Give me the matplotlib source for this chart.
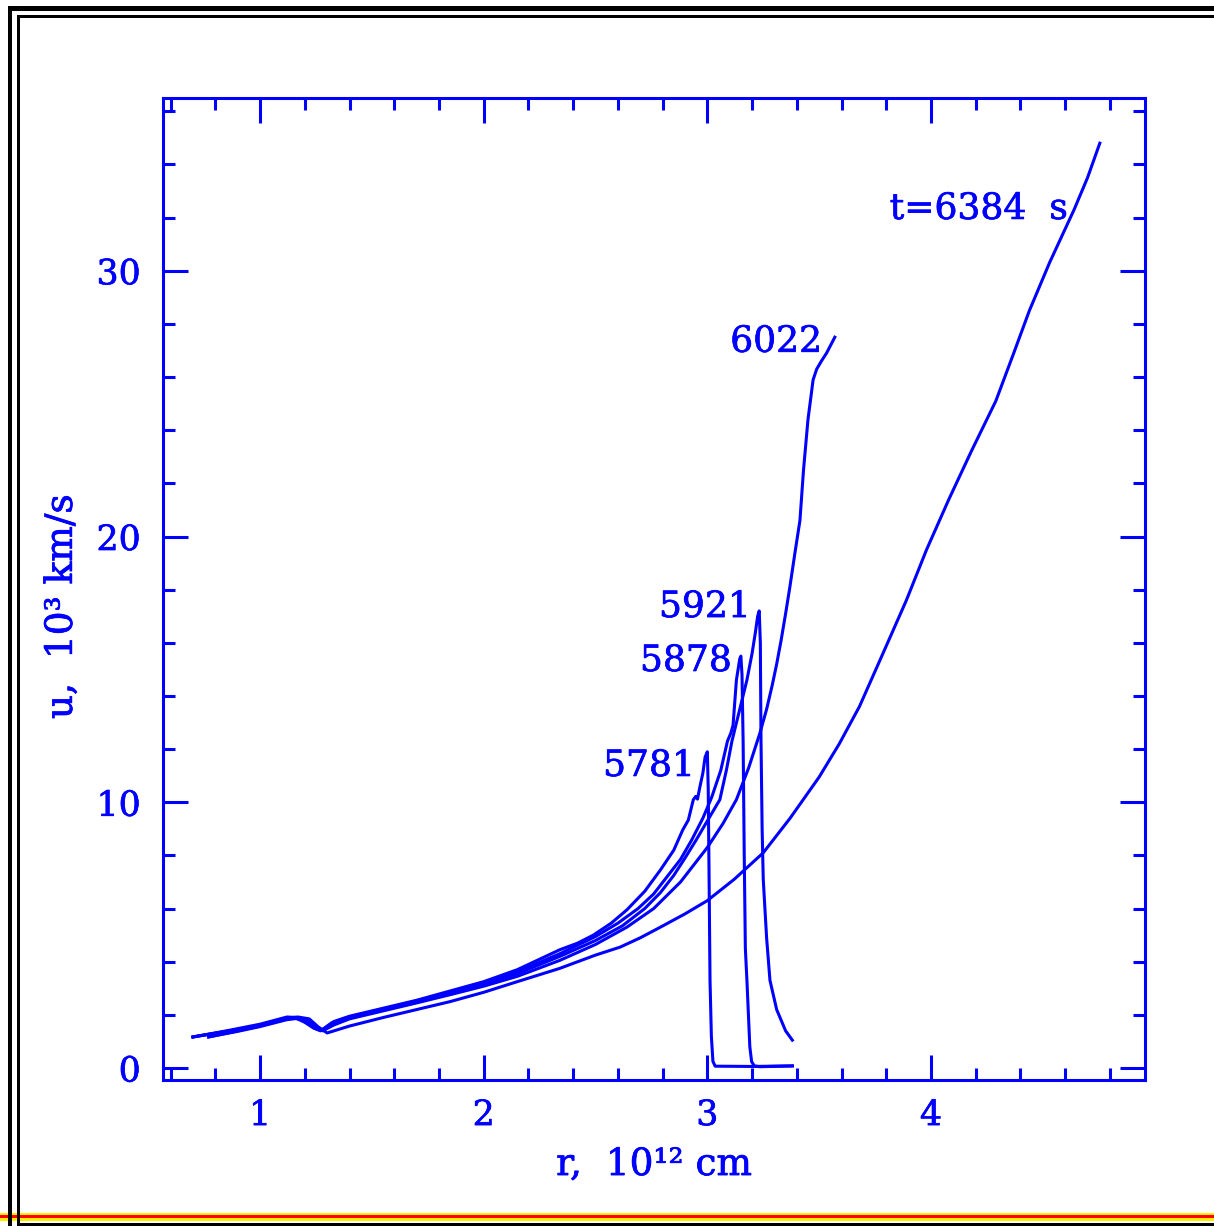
import matplotlib
matplotlib.use("Agg")
import matplotlib.pyplot as plt
import matplotlib.patheffects as pe
from matplotlib.patches import Rectangle
from matplotlib.ticker import MultipleLocator

# velocity profiles u(r) at several times
r_5781 = [0.70, 0.85, 1.00, 1.12, 1.17, 1.21, 1.25, 1.28, 1.33, 1.40, 1.55, 1.70, 1.85, 2.00,
          2.15, 2.34, 2.42, 2.49, 2.57, 2.64, 2.72, 2.79, 2.85, 2.89, 2.915, 2.937, 2.948,
          2.956, 2.966, 2.98, 2.99, 3.000, 3.004, 3.008, 3.012, 3.018, 3.025, 3.035, 3.20, 3.38]
u_5781 = [1.17, 1.40, 1.65, 1.92, 1.90, 1.70, 1.48, 1.42, 1.75, 1.95, 2.25, 2.55, 2.90, 3.25,
          3.70, 4.45, 4.70, 5.00, 5.45, 5.95, 6.65, 7.45, 8.20, 8.96, 9.33, 10.09, 10.22,
          10.12, 10.55, 11.1, 11.7, 11.9, 10.5, 7.0, 3.3, 1.2, 0.25, 0.07, 0.06, 0.08]

r_5878 = [0.77, 0.90, 1.00, 1.12, 1.16, 1.20, 1.24, 1.27, 1.32, 1.40, 1.55, 1.70, 1.85, 2.00,
          2.15, 2.34, 2.50, 2.60, 2.69, 2.76, 2.82, 2.88, 2.93, 2.98, 3.02, 3.06, 3.09, 3.105,
          3.115, 3.13, 3.145, 3.150, 3.155, 3.160, 3.165, 3.170, 3.177, 3.190, 3.198, 3.21,
          3.235, 3.38]
u_5878 = [1.17, 1.40, 1.58, 1.85, 1.88, 1.72, 1.50, 1.40, 1.70, 1.92, 2.22, 2.52, 2.86, 3.20,
          3.62, 4.30, 4.95, 5.45, 6.00, 6.55, 7.20, 7.85, 8.58, 9.40, 10.2, 11.2, 12.3, 12.6,
          12.9, 14.6, 15.4, 15.5, 14.8, 12.3, 8.0, 4.5, 3.3, 0.8, 0.24, 0.08,
          0.05, 0.08]

r_5921 = [0.70, 0.85, 1.00, 1.12, 1.17, 1.21, 1.25, 1.28, 1.33, 1.40, 1.55, 1.70, 1.85, 2.00,
          2.15, 2.34, 2.50, 2.62, 2.72, 2.79, 2.85, 2.90, 2.95, 3.00, 3.056, 3.085, 3.11,
          3.145, 3.177, 3.20, 3.215, 3.225, 3.232, 3.237, 3.240, 3.245, 3.250, 3.265, 3.28,
          3.31, 3.35, 3.38]
u_5921 = [1.17, 1.38, 1.60, 1.85, 1.90, 1.78, 1.52, 1.42, 1.68, 1.90, 2.20, 2.50, 2.82, 3.15,
          3.55, 4.20, 4.80, 5.35, 6.00, 6.60, 7.25, 7.90, 8.58, 9.30, 10.1, 11.2, 12.3,
          13.5, 14.6, 15.6, 16.4, 17.0, 17.2, 16.0, 12.3, 9.0, 7.1, 4.9, 3.3,
          2.2, 1.4, 1.05]

r_6022 = [0.77, 0.90, 1.00, 1.12, 1.16, 1.20, 1.24, 1.28, 1.33, 1.40, 1.55, 1.70, 1.85, 2.00,
          2.15, 2.34, 2.50, 2.64, 2.76, 2.88, 3.00, 3.07, 3.13, 3.185, 3.235, 3.265, 3.29,
          3.31, 3.33, 3.35, 3.369, 3.392, 3.414, 3.43, 3.45, 3.473, 3.489, 3.51, 3.533, 3.57]
u_6022 = [1.17, 1.38, 1.56, 1.82, 1.86, 1.80, 1.62, 1.40, 1.62, 1.85, 2.15, 2.45, 2.76, 3.08,
          3.45, 4.05, 4.65, 5.30, 6.00, 7.00, 8.30, 9.20, 10.1, 11.3, 12.6, 13.5, 14.4,
          15.2, 16.1, 17.1, 18.1, 19.4, 20.6, 22.5, 24.4, 25.9, 26.3, 26.6, 26.9, 27.5]

r_6384 = [0.70, 0.85, 1.00, 1.12, 1.17, 1.22, 1.26, 1.30, 1.35, 1.40, 1.55, 1.70, 1.85, 2.00,
          2.15, 2.34, 2.50, 2.61, 2.70, 2.79, 2.90, 3.00, 3.12, 3.25, 3.37, 3.50, 3.59, 3.68,
          3.78, 3.89, 3.98, 4.08, 4.18, 4.29, 4.37, 4.44, 4.53, 4.64, 4.70, 4.755]
u_6384 = [1.17, 1.38, 1.60, 1.88, 1.92, 1.85, 1.55, 1.32, 1.45, 1.58, 1.90, 2.20, 2.50, 2.85,
          3.25, 3.75, 4.25, 4.55, 4.90, 5.30, 5.80, 6.30, 7.10, 8.10, 9.40, 10.95, 12.2, 13.6,
          15.5, 17.6, 19.5, 21.4, 23.2, 25.1, 26.9, 28.5, 30.3, 32.3, 33.5, 34.8]

curve_labels = ["5781", "5878", "5921", "6022", "t=6384  s"]
label_pos = [(2.945, 10.99), (3.110, 14.94), (3.195, 16.97), (3.513, 26.95), (4.613, 31.95)]

W, H = 1214, 1226
fig = plt.figure(figsize=(W / 100, H / 100), dpi=100)


def px_rect(x0, y0, x1, y1, color):
    fig.add_artist(Rectangle((x0 / W, 1 - y1 / H), (x1 - x0) / W, (y1 - y0) / H,
                             transform=fig.transFigure, color=color, lw=0))


# page frame
px_rect(0, 1212.5, W, 1220.5, "#ffee00")
px_rect(0, 1215, W, 1218, "#ff0000")
px_rect(8, 6, W, 11, "black")
px_rect(8, 6, 12, H, "black")
px_rect(17, 15, W, 18.3, "black")
px_rect(17, 15, 20, H, "black")
px_rect(17, 1223, W, H, "black")

blue = "#0000ff"
heavy = [pe.withStroke(linewidth=0.5, foreground=blue)]
ax = fig.add_axes([163 / W, 1 - 1080 / H, 982 / W, 982 / H])

for r, u in [(r_5781, u_5781), (r_5878, u_5878), (r_5921, u_5921),
             (r_6022, u_6022), (r_6384, u_6384)]:
    ax.plot(r, u, color=blue, lw=2.2, solid_joinstyle="round")

for txt, (x, y) in zip(curve_labels, label_pos):
    ax.text(x, y, txt, color=blue, fontsize=26, family="DejaVu Serif",
            ha="right", va="baseline", path_effects=heavy)

ax.set_xlim(0.566, 4.957)
ax.set_ylim(-0.45, 36.5)
ax.xaxis.set_major_locator(MultipleLocator(1))
ax.xaxis.set_minor_locator(MultipleLocator(0.2))
ax.yaxis.set_major_locator(MultipleLocator(10))
ax.yaxis.set_minor_locator(MultipleLocator(2))

for s in ax.spines.values():
    s.set_color(blue)
    s.set_linewidth(2.2)
ax.tick_params(which="both", direction="in", top=True, right=True, color=blue,
               width=2.2, labelcolor=blue, labelsize=25)
ax.tick_params(which="major", length=18)
ax.tick_params(which="minor", length=8.5)
ax.tick_params(axis="x", which="major", pad=13)
ax.tick_params(axis="y", which="major", pad=16)
for lab in ax.get_xticklabels() + ax.get_yticklabels():
    lab.set_family("DejaVu Serif")
    lab.set_path_effects(heavy)

ax.set_xlabel("r,  10¹² cm", color=blue, fontsize=27, family="DejaVu Serif",
              path_effects=heavy)
ax.set_ylabel("u,  10³ km/s", color=blue, fontsize=27, family="DejaVu Serif",
              path_effects=heavy)
ax.xaxis.label.set_va("center")
ax.yaxis.label.set_va("center")
ax.xaxis.set_label_coords(0.5, -0.0866)
ax.yaxis.set_label_coords(-0.103, 0.482)

fig.savefig("out.png", dpi=100)
